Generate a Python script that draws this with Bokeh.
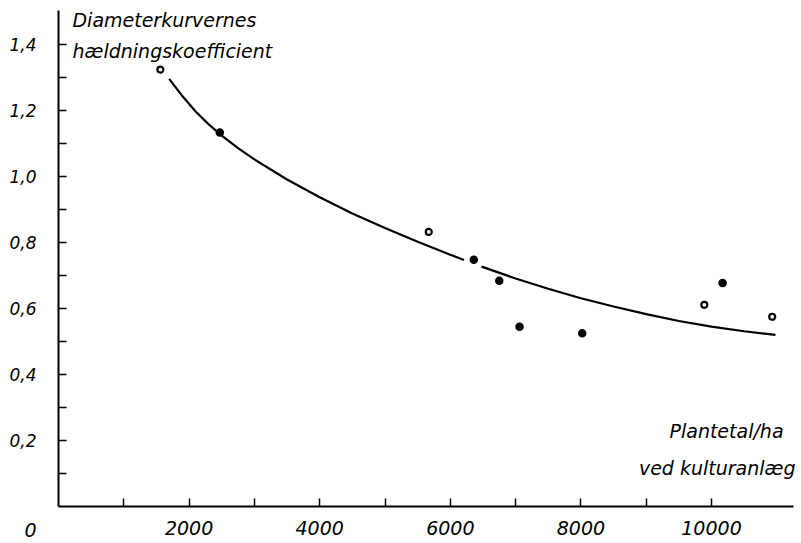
from bokeh.plotting import figure
from bokeh.models import Range1d, FixedTicker, CustomJSTickFormatter, Label, LinearAxis
from bokeh.embed import file_html
from bokeh.resources import INLINE

# Observations: planting density (plants/ha at establishment) vs slope coefficient
filled_x = [2470, 6360, 6750, 7060, 8020, 10170]
filled_y = [1.133, 0.748, 0.684, 0.545, 0.525, 0.677]
open_x = [1560, 5670, 9890, 10930]
open_y = [1.324, 0.832, 0.611, 0.575]

# Fitted curve (gap where it passes a point)
curve_x = [1695, 1900, 2100, 2300, 2500, 2750, 3000, 3500, 4000, 4500, 5000, 5500, 6000, 6210,
           float("nan"), 6480, 7000, 7500, 8000, 8500, 9000, 9500, 10000, 10500, 10980]
curve_y = [1.296, 1.243, 1.197, 1.158, 1.124, 1.086, 1.052, 0.991, 0.937, 0.888, 0.844, 0.802, 0.763, 0.747,
           float("nan"), 0.727, 0.691, 0.660, 0.631, 0.606, 0.583, 0.562, 0.545, 0.531, 0.520]

x_major = [2000, 4000, 6000, 8000, 10000]
x_minor = [1000, 3000, 5000, 7000, 9000]
y_major = [0.2, 0.4, 0.6, 0.8, 1.0, 1.2, 1.4]
y_minor = [0.1, 0.3, 0.5, 0.7, 0.9, 1.1, 1.3]
x_axis_end = 11256
y_axis_end = 1.503

FONT = "DejaVu Sans"

p = figure(width=801, height=543, output_backend="svg", toolbar_location=None,
           x_range=Range1d(-888.2, 11378.2), y_range=Range1d(-0.1121, 1.5333),
           x_axis_type=None, y_axis_type=None, min_border=0)
p.outline_line_color = None
p.grid.visible = False
p.background_fill_color = "white"
p.border_fill_color = "white"

xaxis = LinearAxis(fixed_location=0, bounds=(0, x_axis_end),
                   ticker=FixedTicker(ticks=x_major, minor_ticks=x_minor))
yaxis = LinearAxis(fixed_location=0, bounds=(0, y_axis_end),
                   ticker=FixedTicker(ticks=y_major, minor_ticks=y_minor))
p.add_layout(xaxis, "below")
p.add_layout(yaxis, "left")

for ax in (xaxis, yaxis):
    ax.axis_line_width = 2
    ax.axis_line_color = "black"
    ax.major_tick_in = 8
    ax.major_tick_out = 0
    ax.minor_tick_in = 8
    ax.minor_tick_out = 0
    ax.major_tick_line_width = 1.5
    ax.minor_tick_line_width = 1.5
    ax.major_tick_line_color = "black"
    ax.minor_tick_line_color = "black"
    ax.major_label_text_font = FONT
    ax.major_label_text_font_style = "italic"
    ax.major_label_text_color = "black"

xaxis.major_label_text_font_size = "19px"
xaxis.major_label_standoff = 14
yaxis.major_label_text_font_size = "17px"
yaxis.major_label_standoff = 22
yaxis.formatter = CustomJSTickFormatter(code="return tick.toFixed(1).replace('.', ',');")
xaxis.formatter = CustomJSTickFormatter(code="return tick.toFixed(0);")

p.line(curve_x, curve_y, line_color="black", line_width=2.2)
p.scatter(filled_x, filled_y, size=7, fill_color="black", line_color="black", line_width=1.5)
p.scatter(open_x, open_y, size=6, fill_color="white", line_color="black", line_width=2.2)

def lab(x, y, text, align="left", size="19px", xo=0, yo=0):
    p.add_layout(Label(x=x, y=y, text=text, text_align=align, text_baseline="middle",
                       text_font=FONT, text_font_style="italic", text_font_size=size,
                       text_color="black", x_offset=xo, y_offset=yo))

lab(214, 1.473, "Diameterkurvernes")
lab(214, 1.379, "hældningskoefficient")
lab(x_axis_end, 0.230, "Plantetal/ha", align="right", xo=-10)
lab(x_axis_end, 0.118, "ved kulturanlæg", align="right", xo=2)
lab(0, 0, "0", align="right", size="19px", xo=-22, yo=-23)

open("out.html", "w").write(file_html(p, INLINE))
